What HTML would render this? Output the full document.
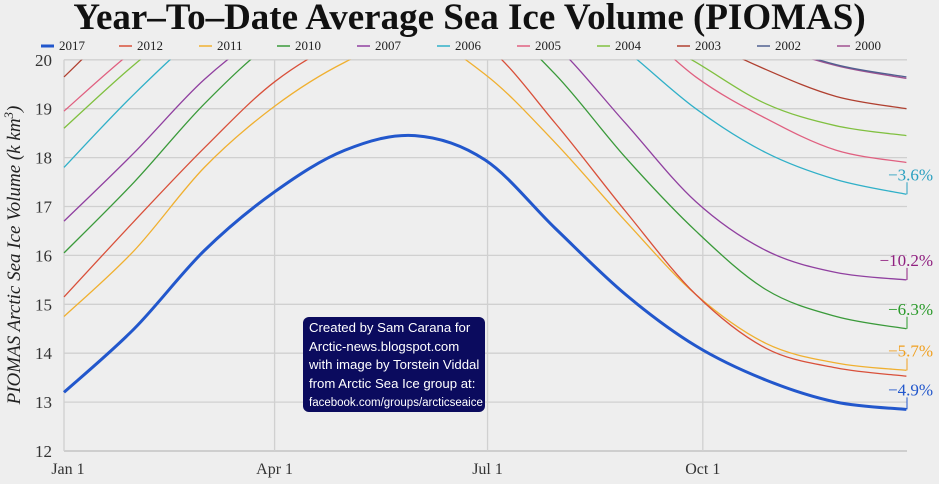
<!DOCTYPE html>
<html><head><meta charset="utf-8"><style>
body{margin:0;background:#eeeeee;width:939px;height:484px;overflow:hidden;position:relative;font-family:"Liberation Serif",serif}
#title{position:absolute;left:0;top:-4px;width:939px;text-align:center;font-weight:bold;font-size:37px;color:#111}
#box{position:absolute;left:303px;top:317px;width:182px;height:95px;background:#0b0b5e;border-radius:6px;color:#fff;font-family:"Liberation Sans",sans-serif;font-size:13.2px;line-height:18.5px;padding:2px 0 0 6px;box-sizing:border-box}
#box .s{font-size:11.5px}
</style></head><body>
<div id="title">Year–To–Date Average Sea Ice Volume (PIOMAS)</div>
<svg id="chart" width="939" height="484" style="position:absolute;left:0;top:0"></svg>
<div id="box">Created by Sam Carana for<br>Arctic-news.blogspot.com<br>with image by Torstein Viddal<br>from Arctic Sea Ice group at:<br><span class="s">facebook.com/groups/arcticseaice</span></div>
<script>
const days=[0,30,60,90,120,150,180,210,240,270,300,330,360];
const years=["2017","2012","2011","2010","2007","2006","2005","2004","2003","2002","2000"];
const v2017=[13.2,14.5,16.1,17.3,18.15,18.45,17.95,16.55,15.2,14.15,13.45,13.0,12.85];
const v2012=[15.15,16.7,18.2,19.55,20.4,20.8,20.3,18.7,16.9,15.2,14.1,13.7,13.53];
const v2011=[14.75,16.1,17.8,19.05,19.95,20.5,19.7,18.3,16.7,15.2,14.2,13.8,13.65];
const v2010=[16.05,17.5,19.1,20.4,21.2,21.5,21.0,19.7,18.0,16.5,15.3,14.75,14.5];
const v2007=[16.7,18.1,19.6,20.7,21.5,21.8,21.4,20.3,18.7,17.1,16.1,15.65,15.5];
const v2006=[17.8,19.3,20.6,21.5,22,22.2,22,21.3,20.2,19.0,18.1,17.55,17.25];
const v2005=[18.95,20.2,21.2,22,22.5,22.7,22.5,21.9,20.9,19.65,18.8,18.15,17.9];
const v2004=[18.6,19.9,21,21.8,22.3,22.5,22.3,21.7,20.8,19.95,19.1,18.65,18.45];
const v2003=[19.65,21,22,22.6,23,23.2,23,22.5,21.4,20.5,19.8,19.25,19.0];
const v2002=[20.4,21.5,22.4,23,23.4,23.6,23.4,22.9,22,21.2,20.4,19.9,19.65];
const v2000=[20.3,21.4,22.3,22.9,23.3,23.5,23.3,22.8,21.9,21.1,20.35,19.88,19.62];
const series=[v2017,v2012,v2011,v2010,v2007,v2006,v2005,v2004,v2003,v2002,v2000];
const colors=["#2257cc","#d9503a","#f0b030","#3a9a3a","#9040a0","#30b0c8","#e06080","#80c040","#b04030","#506090","#a05090"];
const yTicks=[12,13,14,15,16,17,18,19,20];
const xTickDays=[0,90,181,273];
const xTickLabels=["Jan 1","Apr 1","Jul 1","Oct 1"];
const labelYears=["2006","2007","2010","2011","2017"];
const labelTexts=["−3.6%","−10.2%","−6.3%","−5.7%","−4.9%"];
const labelColors=["#2aa0c0","#902080","#2a9a2a","#f0a020","#2257cc"];

const svg=document.getElementById('chart');const NS="http://www.w3.org/2000/svg";
const X=d=>64+d*2.34, Y=v=>451-(v-12)*48.9;
function mk(t,a,p){const e=document.createElementNS(NS,t);for(const k in a)e.setAttribute(k,a[k]);(p||svg).appendChild(e);return e;}
const defs=mk('defs',{});const cp=mk('clipPath',{id:'pc'},defs);mk('rect',{x:60,y:Y(20),width:860,height:400},cp);
yTicks.forEach(t=>{const l=mk('line',{x1:64,x2:907,y1:Y(t),y2:Y(t),stroke:t===12?'#bbb':'#d0d0d0','stroke-width':1.3});

const tx=mk('text',{x:52,y:Y(t)+6,'text-anchor':'end','font-size':17,fill:'#333'});tx.textContent=t;
});
xTickDays.forEach((d,i)=>{const l=mk('line',{x1:X(d),x2:X(d),y1:Y(20),y2:Y(12),stroke:'#d0d0d0','stroke-width':1.3});

const tx=mk('text',{x:X(d)+(i==0?4:0),y:474,'text-anchor':'middle','font-size':16,fill:'#333'});tx.textContent=xTickLabels[i];
});
const yl=mk('text',{transform:'translate(20,255) rotate(-90)','text-anchor':'middle','font-size':19,'font-style':'italic',fill:'#222'});
yl.innerHTML='PIOMAS Arctic Sea Ice Volume (k km<tspan dy="-7" font-size="13">3</tspan><tspan dy="7">)</tspan>';

function path(vals){const p=days.map((d,i)=>[X(d),Y(vals[i])]);let s=`M${p[0][0]},${p[0][1]}`;
for(let i=0;i<p.length-1;i++){const p0=p[Math.max(0,i-1)],p1=p[i],p2=p[i+1],p3=p[Math.min(p.length-1,i+2)];
s+=` C${p1[0]+(p2[0]-p0[0])/6},${p1[1]+(p2[1]-p0[1])/6} ${p2[0]-(p3[0]-p1[0])/6},${p2[1]-(p3[1]-p1[1])/6} ${p2[0]},${p2[1]}`;}return s;}
const g=mk('g',{'clip-path':'url(#pc)'});
for(let i=series.length-1;i>=0;i--){const e=mk('path',{d:path(series[i]),fill:'none',stroke:colors[i],'stroke-width':i==0?3:1.3},g);
}
const lx=[74,152,232,310,390,470,550,630,710,790,870];
years.forEach((y,i)=>{const l=mk('line',{x1:lx[i]-33,x2:lx[i]-20,y1:46,y2:46,stroke:colors[i],'stroke-width':i==0?3:1.5});

const t=mk('text',{x:lx[i]-15,y:50,'font-size':13,fill:'#222'});t.textContent=y;
});
labelYears.forEach((y,i)=>{const v=series[years.indexOf(y)][12];const yy=Y(v);
const b=mk('path',{d:`M907,${yy} V${yy-12}`,stroke:labelColors[i],'stroke-width':1,fill:'none'});

const t=mk('text',{x:933,y:yy-14,'text-anchor':'end','font-size':17,fill:labelColors[i]});t.textContent=labelTexts[i];
});
</script></body></html>
